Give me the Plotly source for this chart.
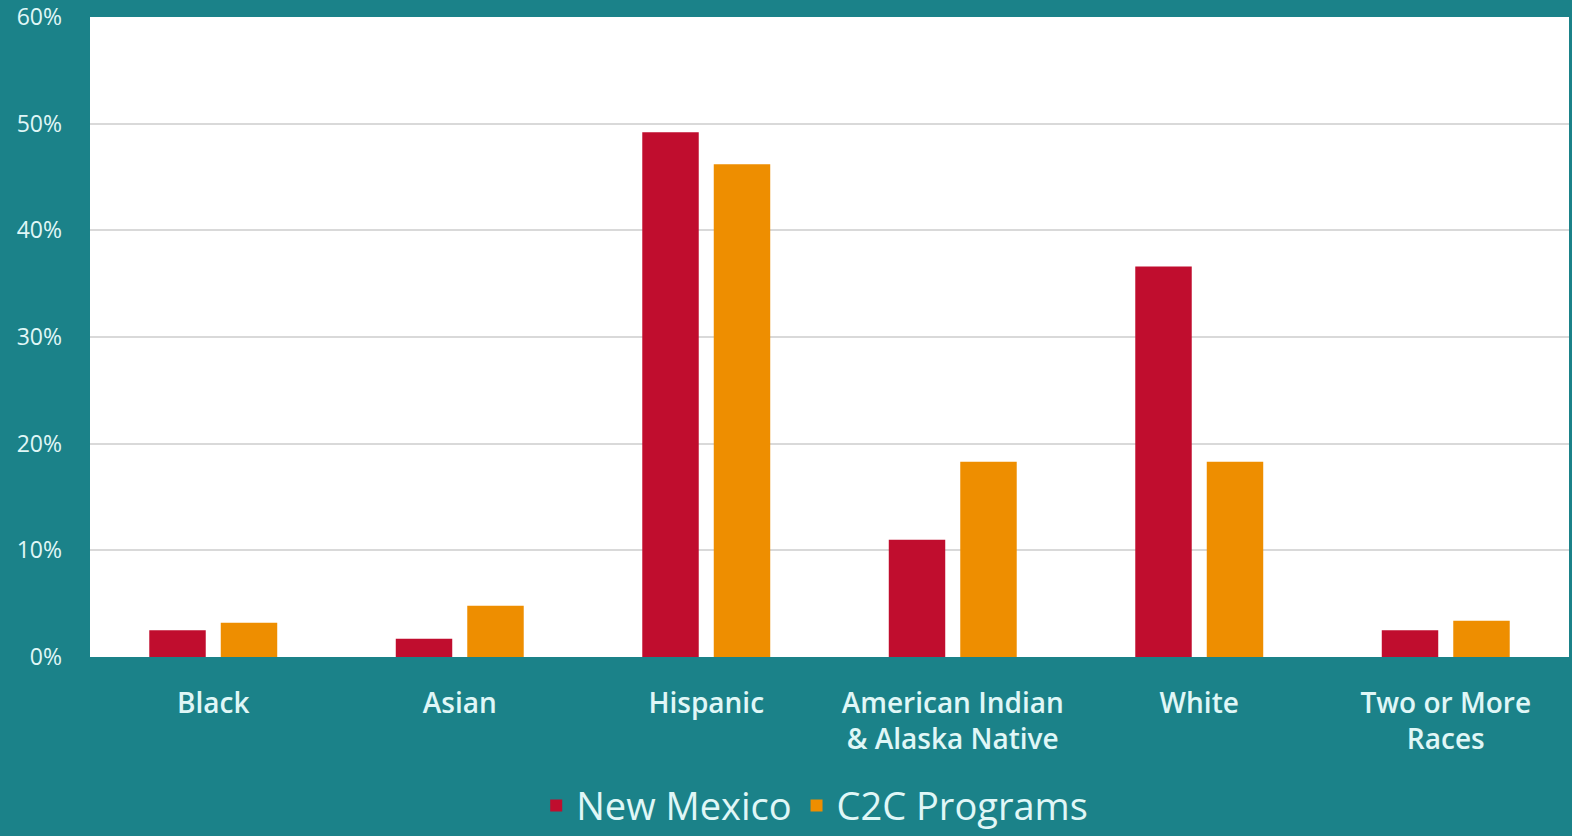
import plotly.graph_objects as go

categories = ["Black", "Asian", "Hispanic", "American Indian<br>& Alaska Native", "White", "Two or More<br>Races"]
new_mexico = [2.5, 1.7, 49.2, 11.0, 36.6, 2.5]
c2c_programs = [3.2, 4.8, 46.2, 18.3, 18.3, 3.4]
y_ticks = [0, 10, 20, 30, 40, 50, 60]
y_tick_labels = ["0%", "10%", "20%", "30%", "40%", "50%", "60%"]

text_color = "#E0F7F7"
font_family = "Open Sans, Lato, sans-serif"

fig = go.Figure()
fig.add_trace(go.Bar(x=categories, y=new_mexico, name="New Mexico",
                     marker=dict(color="#C00D2E", line=dict(width=0))))
fig.add_trace(go.Bar(x=categories, y=c2c_programs, name="C2C Programs",
                     marker=dict(color="#EE8E00", line=dict(width=0))))

fig.update_layout(
    width=1572, height=836,
    margin=dict(l=90, r=3, t=17, b=179, autoexpand=False),
    paper_bgcolor="#1B8289",
    plot_bgcolor="#FFFFFF",
    barmode="group",
    bargap=0.42,
    bargroupgap=0.21,
    font=dict(family=font_family, color=text_color),
    showlegend=True,
    legend=dict(orientation="h", x=0.49, xanchor="center",
                yref="container", y=0.036, yanchor="middle",
                font=dict(size=38, color=text_color), bgcolor="rgba(0,0,0,0)",
                itemwidth=30, traceorder="normal"),
    xaxis=dict(tickfont=dict(size=28, color=text_color, weight=600), showgrid=False,
               showline=False, ticks="", ticklabelstandoff=27, automargin=False),
    yaxis=dict(range=[0, 60], tickvals=y_ticks, ticktext=y_tick_labels,
               tickfont=dict(size=23, color=text_color), showgrid=True,
               gridcolor="#D9D9D9", gridwidth=1.5, zeroline=False, showline=False,
               ticks="", ticklabelstandoff=27, automargin=False),
)

fig.write_html("out.html", config={"displayModeBar": False},
               post_script="document.body.style.margin='0';document.body.style.overflow='hidden';")
